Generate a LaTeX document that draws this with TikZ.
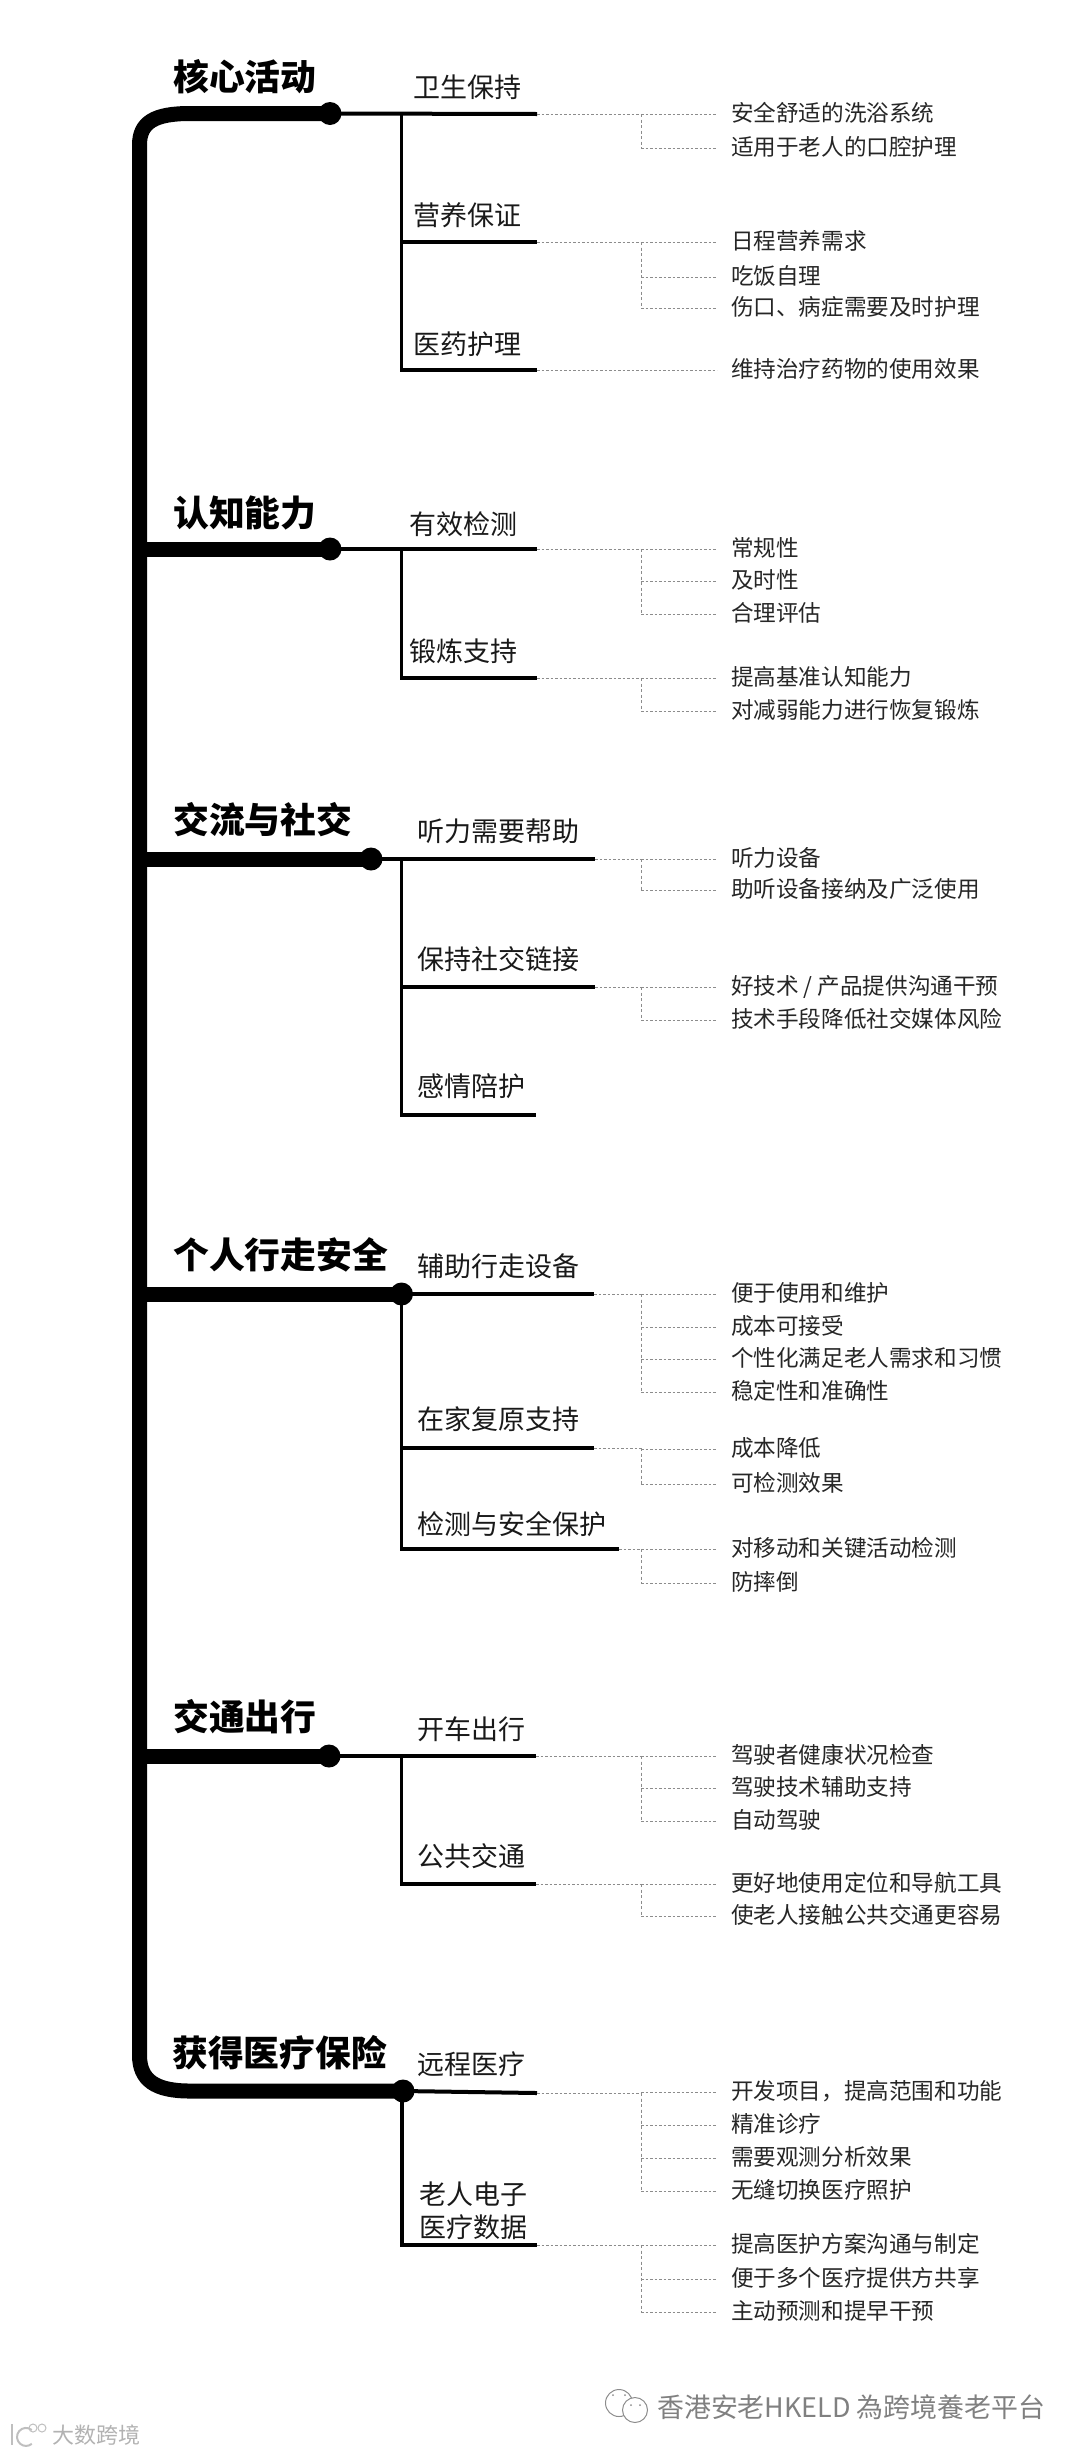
\documentclass[tikz,border=0pt]{standalone}
\usepackage{fontspec}
\setmainfont{Noto Sans CJK SC}

\begin{document}
\begin{tikzpicture}[
		x=1pt, y=-1pt,
		spine/.style={line width=15pt, black},
		hub/.style={circle, fill=black, minimum size=23pt, inner sep=0pt},
		stem/.style={line width=3.5pt, black},
		twig/.style={line width=4pt, black},
		title text/.style={anchor=west, inner sep=0pt, font=\fontsize{35.8}{36}\selectfont\bfseries},
		sub text/.style={anchor=west, inner sep=0pt, align=left, font=\fontsize{27}{33}\selectfont, black!90},
		leaf/.style={anchor=west, inner xsep=0pt, inner ysep=0pt, outer xsep=14pt, outer ysep=0pt, text height=17pt, text depth=3pt, font=\fontsize{22.6}{24}\selectfont, black!85},
		leaf dot/.style={black!45, line width=1pt, dash pattern=on 2.5pt off 2pt},
		leaf dash/.style={black!45, line width=1pt, dash pattern=on 3pt off 2.5pt},
		mark text/.style={anchor=west, inner sep=0pt, black!50},
		mark ring/.style={circle, draw=black!45, line width=1pt, inner sep=0pt}
		]
		\useasboundingbox (0,0) rectangle (1080,2455);
		
		% =========================================================
		% Main line
		% =========================================================
		\node[hub] (h1) at (330,113.5) {};
		\node[hub] (h2) at (330,549) {};
		\node[hub] (h3) at (371,859) {};
		\node[hub] (h4) at (401.5,1294) {};
		\node[hub] (h5) at (329,1756) {};
		\node[hub] (h6) at (403,2091) {};
		\draw[spine] (h1.center) -- (190,113.5) .. controls (155,113.5) and (139.5,122) .. (139.5,145)
			-- (139.5,2055) .. controls (139.5,2080) and (155,2091) .. (190,2091) -- (h6.center);
		\foreach \n in {2,3,4,5} {
			\draw[spine] (139.5,0 |- h\n) -- (h\n.center);
		}
		
		% =========================================================
		% Section 1
		% =========================================================
		\node[title text] (t1) at (173,77) {核心活动};
		\coordinate (e1a) at (537,114);
		\coordinate (e1b) at (537,242);
		\coordinate (e1c) at (537,370);
		\draw[twig] (h1.center) -- (e1a);
		\draw[stem] (401.7,114) -- (401.7,370) -- (e1c);
		\draw[twig] (401.7,242) -- (e1b);
		\node[sub text] (s1a) at (413,87) {卫生保持};
		\node[sub text] (s1b) at (413,215) {营养保证};
		\node[sub text] (s1c) at (413,344) {医药护理};
		
		% Leaves
		\coordinate (b1a) at (641,114);
		\draw[leaf dot] (e1a) -- (b1a);
		\foreach \n/\y/\t in {1/114/安全舒适的洗浴系统, 2/148/适用于老人的口腔护理} {
			\node[leaf] (l1a\n) at (717,\y) {\t};
			\draw[leaf dot] (b1a |- l1a\n.west) -- (l1a\n.west);
			\draw[leaf dash] (b1a) -- (b1a |- l1a\n.west);
		}
		\coordinate (b1b) at (641,242);
		\draw[leaf dot] (e1b) -- (b1b);
		\foreach \n/\y/\t in {1/242/日程营养需求, 2/277/吃饭自理, 3/308/伤口、病症需要及时护理} {
			\node[leaf] (l1b\n) at (717,\y) {\t};
			\draw[leaf dot] (b1b |- l1b\n.west) -- (l1b\n.west);
			\draw[leaf dash] (b1b) -- (b1b |- l1b\n.west);
		}
		\node[leaf] (l1c1) at (717,370) {维持治疗药物的使用效果};
		\draw[leaf dot] (e1c) -- (l1c1.west);
		
		% =========================================================
		% Section 2
		% =========================================================
		\node[title text] (t2) at (173,513) {认知能力};
		\coordinate (e2a) at (537,549);
		\coordinate (e2b) at (537,678);
		\draw[twig] (h2.center) -- (e2a);
		\draw[stem] (401.7,549) -- (401.7,678) -- (e2b);
		\node[sub text] (s2a) at (409,524) {有效检测};
		\node[sub text] (s2b) at (409,651) {锻炼支持};
		
		% Leaves
		\coordinate (b2a) at (641,549);
		\draw[leaf dot] (e2a) -- (b2a);
		\foreach \n/\y/\t in {1/549/常规性, 2/581/及时性, 3/614/合理评估} {
			\node[leaf] (l2a\n) at (717,\y) {\t};
			\draw[leaf dot] (b2a |- l2a\n.west) -- (l2a\n.west);
			\draw[leaf dash] (b2a) -- (b2a |- l2a\n.west);
		}
		\coordinate (b2b) at (641,678);
		\draw[leaf dot] (e2b) -- (b2b);
		\foreach \n/\y/\t in {1/678/提高基准认知能力, 2/711/对减弱能力进行恢复锻炼} {
			\node[leaf] (l2b\n) at (717,\y) {\t};
			\draw[leaf dot] (b2b |- l2b\n.west) -- (l2b\n.west);
			\draw[leaf dash] (b2b) -- (b2b |- l2b\n.west);
		}
		
		% =========================================================
		% Section 3
		% =========================================================
		\node[title text] (t3) at (173,820) {交流与社交};
		\coordinate (e3a) at (595,859);
		\coordinate (e3b) at (595,987);
		\coordinate (e3c) at (536,1115);
		\draw[twig] (h3.center) -- (e3a);
		\draw[stem] (401.7,859) -- (401.7,1115) -- (e3c);
		\draw[twig] (401.7,987) -- (e3b);
		\node[sub text] (s3a) at (417,831) {听力需要帮助};
		\node[sub text] (s3b) at (417,959) {保持社交链接};
		\node[sub text] (s3c) at (417,1086) {感情陪护};
		
		% Leaves
		\coordinate (b3a) at (641,859);
		\draw[leaf dot] (e3a) -- (b3a);
		\foreach \n/\y/\t in {1/859/听力设备, 2/890/助听设备接纳及广泛使用} {
			\node[leaf] (l3a\n) at (717,\y) {\t};
			\draw[leaf dot] (b3a |- l3a\n.west) -- (l3a\n.west);
			\draw[leaf dash] (b3a) -- (b3a |- l3a\n.west);
		}
		\coordinate (b3b) at (641,987);
		\draw[leaf dot] (e3b) -- (b3b);
		\foreach \n/\y/\t in {1/987/{好技术 / 产品提供沟通干预}, 2/1020/技术手段降低社交媒体风险} {
			\node[leaf] (l3b\n) at (717,\y) {\t};
			\draw[leaf dot] (b3b |- l3b\n.west) -- (l3b\n.west);
			\draw[leaf dash] (b3b) -- (b3b |- l3b\n.west);
		}
		
		% =========================================================
		% Section 4
		% =========================================================
		\node[title text] (t4) at (173,1255) {个人行走安全};
		\coordinate (e4a) at (594,1294);
		\coordinate (e4b) at (594,1448);
		\coordinate (e4c) at (619,1549);
		\draw[twig] (h4.center) -- (e4a);
		\draw[stem] (401.7,1294) -- (401.7,1549) -- (e4c);
		\draw[twig] (401.7,1448) -- (e4b);
		\node[sub text] (s4a) at (417,1266) {辅助行走设备};
		\node[sub text] (s4b) at (417,1419) {在家复原支持};
		\node[sub text] (s4c) at (417,1524) {检测与安全保护};
		
		% Leaves
		\coordinate (b4a) at (641,1294);
		\draw[leaf dot] (e4a) -- (b4a);
		\foreach \n/\y/\t in {1/1294/便于使用和维护, 2/1327/成本可接受, 3/1359/个性化满足老人需求和习惯, 4/1392/稳定性和准确性} {
			\node[leaf] (l4a\n) at (717,\y) {\t};
			\draw[leaf dot] (b4a |- l4a\n.west) -- (l4a\n.west);
			\draw[leaf dash] (b4a) -- (b4a |- l4a\n.west);
		}
		\coordinate (b4b) at (641,1448);
		\draw[leaf dot] (e4b) -- (b4b);
		\foreach \n/\y/\t in {1/1449/成本降低, 2/1484/可检测效果} {
			\node[leaf] (l4b\n) at (717,\y) {\t};
			\draw[leaf dot] (b4b |- l4b\n.west) -- (l4b\n.west);
			\draw[leaf dash] (b4b) -- (b4b |- l4b\n.west);
		}
		\coordinate (b4c) at (641,1549);
		\draw[leaf dot] (e4c) -- (b4c);
		\foreach \n/\y/\t in {1/1549/对移动和关键活动检测, 2/1583/防摔倒} {
			\node[leaf] (l4c\n) at (717,\y) {\t};
			\draw[leaf dot] (b4c |- l4c\n.west) -- (l4c\n.west);
			\draw[leaf dash] (b4c) -- (b4c |- l4c\n.west);
		}
		
		% =========================================================
		% Section 5
		% =========================================================
		\node[title text] (t5) at (173,1717) {交通出行};
		\coordinate (e5a) at (536,1756);
		\coordinate (e5b) at (536,1884);
		\draw[twig] (h5.center) -- (e5a);
		\draw[stem] (401.7,1756) -- (401.7,1884) -- (e5b);
		\node[sub text] (s5a) at (417,1729) {开车出行};
		\node[sub text] (s5b) at (417,1856) {公共交通};
		
		% Leaves
		\coordinate (b5a) at (641,1756);
		\draw[leaf dot] (e5a) -- (b5a);
		\foreach \n/\y/\t in {1/1756/驾驶者健康状况检查, 2/1788/驾驶技术辅助支持, 3/1821/自动驾驶} {
			\node[leaf] (l5a\n) at (717,\y) {\t};
			\draw[leaf dot] (b5a |- l5a\n.west) -- (l5a\n.west);
			\draw[leaf dash] (b5a) -- (b5a |- l5a\n.west);
		}
		\coordinate (b5b) at (641,1884);
		\draw[leaf dot] (e5b) -- (b5b);
		\foreach \n/\y/\t in {1/1884/更好地使用定位和导航工具, 2/1916/使老人接触公共交通更容易} {
			\node[leaf] (l5b\n) at (717,\y) {\t};
			\draw[leaf dot] (b5b |- l5b\n.west) -- (l5b\n.west);
			\draw[leaf dash] (b5b) -- (b5b |- l5b\n.west);
		}
		
		% =========================================================
		% Section 6
		% =========================================================
		\node[title text] (t6) at (172,2053) {获得医疗保险};
		\coordinate (e6a) at (537,2093);
		\coordinate (e6b) at (537,2245);
		\draw[twig] (h6.center) -- (e6a);
		\draw[stem] (402,2093) -- (402,2245) -- (e6b);
		\node[sub text] (s6a) at (417,2064) {远程医疗};
		\node[sub text] (s6b) at (419,2211) {老人电子\\医疗数据};
		
		% Leaves
		\coordinate (b6a) at (641,2093);
		\draw[leaf dot] (e6a) -- (b6a);
		\foreach \n/\y/\t in {1/2092/开发项目，提高范围和功能, 2/2125/精准诊疗, 3/2158/需要观测分析效果, 4/2191/无缝切换医疗照护} {
			\node[leaf] (l6a\n) at (717,\y) {\t};
			\draw[leaf dot] (b6a |- l6a\n.west) -- (l6a\n.west);
			\draw[leaf dash] (b6a) -- (b6a |- l6a\n.west);
		}
		\coordinate (b6b) at (641,2245);
		\draw[leaf dot] (e6b) -- (b6b);
		\foreach \n/\y/\t in {1/2245/提高医护方案沟通与制定, 2/2279/便于多个医疗提供方共享, 3/2312/主动预测和提早干预} {
			\node[leaf] (l6b\n) at (717,\y) {\t};
			\draw[leaf dot] (b6b |- l6b\n.west) -- (l6b\n.west);
			\draw[leaf dash] (b6b) -- (b6b |- l6b\n.west);
		}
		
		% =========================================================
		% Watermarks
		% =========================================================
		\node[mark ring, minimum size=27pt] (w1) at (619,2403) {};
		\node[mark ring, fill=white, minimum size=25pt] (w2) at (635,2410) {};
		\foreach \x/\y in {613/2395, 625/2395, 631/2405, 640/2405} {
			\fill[black!45] (\x,\y) circle[radius=1pt];
		}
		\node[mark text, font=\fontsize{26.9}{27}\selectfont] (w3) at (657,2407) {香港安老HKELD 為跨境養老平台};
		\node[mark ring, draw=black!25, minimum size=8pt] (m1) at (33,2428) {};
		\node[mark ring, draw=black!25, minimum size=8pt] (m2) at (42,2428) {};
		\draw[black!25, line width=2pt] (12,2424) -- (12,2445);
		\draw[black!25, line width=2pt] (31.8,2430) arc[start angle=50, end angle=310, radius=9pt];
		\node[mark text, black!30, font=\fontsize{22}{22}\selectfont] (m3) at (52,2435) {大数跨境};
		
	\end{tikzpicture}
\end{document}
